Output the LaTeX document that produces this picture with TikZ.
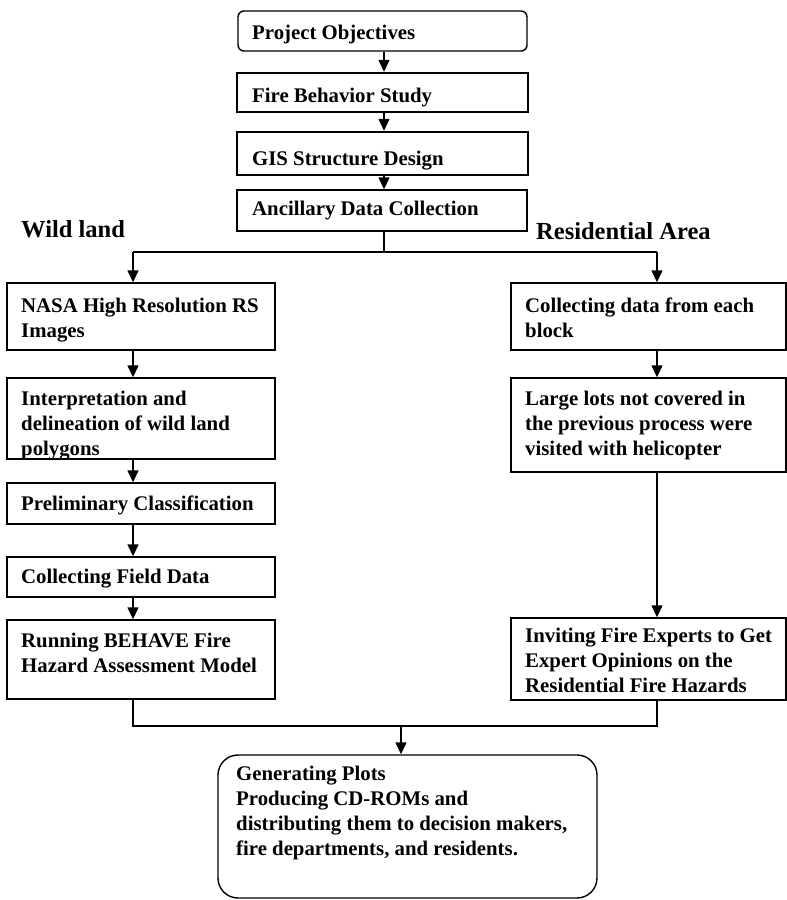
\documentclass[tikz,border=0pt]{standalone}
\usepackage{fontspec}
\setmainfont{Liberation Serif}
\usetikzlibrary{arrows.meta,fit}
\begin{document}
\begin{tikzpicture}[x=1pt,y=-1pt,
  box/.style={draw,line width=1.4pt,inner sep=0pt},
  thickbox/.style={draw,line width=2.4pt,inner sep=0pt},
  txt/.style={anchor=north west,inner sep=0pt,align=left,font=\fontsize{20.8}{25}\selectfont\bfseries},
  lbl/.style={anchor=base west,inner sep=0pt,font=\fontsize{24.5}{29}\selectfont\bfseries},
  ln/.style={line width=1.4pt},
  arr/.style={line width=1.4pt,-{Triangle[width=11pt,length=12pt]}}]
\useasboundingbox (0,0) rectangle (787,900);

% top chain
\node[box,rounded corners=6pt,fit={(238,11)(527,51)}] (po) {};
\node[thickbox,fit={(237,73)(528,112)}] (fbs) {};
\node[thickbox,fit={(237,132)(528,175)}] (gis) {};
\node[box,fit={(237,190)(527,231)}] (anc) {};
\node[txt] (tpo) at (252,39-17.5) {\strut Project Objectives};
\node[txt] (tfbs) at (252,102-17.5) {\strut Fire Behavior Study};
\node[txt] (tgis) at (252,165-17.5) {\strut GIS Structure Design};
\node[txt] (tanc) at (252,215-17.5) {\strut Ancillary Data Collection};

\node[lbl] (wl) at (21,237) {Wild land};
\node[lbl] (ra) at (536,239) {Residential Area};

% left column
\node[box,fit={(7,283)(275,350)}] (nasa) {};
\node[box,fit={(7,378)(275,459)}] (interp) {};
\node[box,fit={(7,483)(275,524)}] (prelim) {};
\node[box,fit={(7,557)(275,597)}] (field) {};
\node[box,fit={(7,620)(275,699)}] (behave) {};
\node[txt] (tnasa) at (21,312-17.5) {\strut NASA High Resolution RS\\Images};
\node[txt] (tinterp) at (21,405-17.5) {\strut Interpretation and\\delineation of wild land\\polygons};
\node[txt] (tprelim) at (21,510-17.5) {\strut Preliminary Classification};
\node[txt] (tfield) at (21,583-17.5) {\strut Collecting Field Data};
\node[txt] (tbehave) at (21,647-17.5) {\strut Running BEHAVE Fire\\Hazard Assessment Model};

% right column
\node[box,fit={(511,283)(786,350)}] (block) {};
\node[box,fit={(511,378)(786,472)}] (lots) {};
\node[box,fit={(511,618)(786,700)}] (invite) {};
\node[txt] (tblock) at (525,312-17.5) {\strut Collecting data from each\\block};
\node[txt] (tlots) at (525,405-17.5) {\strut Large lots not covered in\\the previous process were\\visited with helicopter};
\node[txt] (tinvite) at (525,642-17.5) {\strut Inviting Fire Experts to Get\\Expert Opinions on the\\Residential Fire Hazards};

% final
\node[box,rounded corners=20pt,fit={(218,755)(597,898)}] (final) {};
\node[txt] (tfinal) at (236,780-17.5) {\strut Generating Plots\\Producing CD-ROMs and\\distributing them to decision makers,\\fire departments, and residents.};

% connectors
\coordinate (trunk) at (384,0);
\draw[arr] (po.south -| trunk) -- (fbs.north -| trunk);
\draw[arr] (fbs.south -| trunk) -- (gis.north -| trunk);
\draw[arr] (gis.south -| trunk) -- (anc.north -| trunk);
\coordinate (split) at (384,252);
\coordinate (jl) at (133,252);
\coordinate (jr) at (657,252);
\draw[ln] (anc.south -| trunk) -- (split);
\draw[line width=2.8pt] (jl) -- (jr);
\draw[arr] (jl) -- (jl |- nasa.north);
\draw[arr] (jr) -- (jr |- block.north);
\draw[arr] (nasa.south -| jl) -- (interp.north -| jl);
\draw[arr] (interp.south -| jl) -- (prelim.north -| jl);
\draw[arr] (prelim.south -| jl) -- (field.north -| jl);
\draw[arr] (field.south -| jl) -- (behave.north -| jl);
\draw[arr] (block.south -| jr) -- (lots.north -| jr);
\draw[arr] (lots.south -| jr) -- (invite.north -| jr);
\coordinate (ml) at (133,726);
\coordinate (mr) at (657,726);
\coordinate (mm) at (401,726);
\draw[ln] (behave.south -| jl) -- (ml) -- (mr) -- (invite.south -| jr);
\draw[arr] (mm) -- (mm |- final.north);
\end{tikzpicture}
\end{document}
